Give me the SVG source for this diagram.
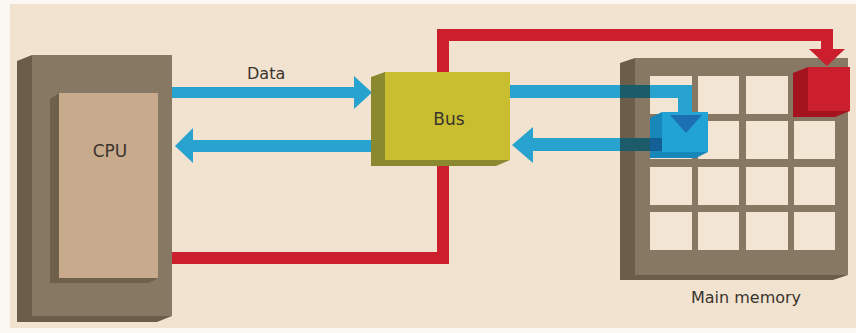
<svg xmlns="http://www.w3.org/2000/svg" width="856" height="333" viewBox="0 0 856 333">
  <style>
    .label { font-family: "DejaVu Sans", "Liberation Sans", sans-serif; fill: #3a342e; }
    .front { fill: #877864; }
    .side { fill: #6b5d49; }
    .cell { fill: #f3e5d3; }
    .blue { fill: #28a3cf; }
    .blue-dark { fill: #1c5b6a; }
    .red { fill: #cc1f2d; }
  </style>

  <!-- paper -->
  <rect width="856" height="333" fill="#fbf8f4"/>
  <rect x="10" y="4" width="846" height="324" fill="#f2e3d0"/>

  <!-- CPU box -->
  <g id="cpu">
    <polygon class="side" points="17,61 32,55 32,316 172,316 157,322 17,322"/>
    <rect class="front" x="32" y="55" width="140" height="261"/>
    <polygon fill="#6f604c" points="50,99 59,93 59,278 158,278 149,283 50,283"/>
    <rect x="59" y="93" width="99" height="185" fill="#c8ab8c"/>
    <text class="label" x="110" y="157" font-size="17" text-anchor="middle">CPU</text>
  </g>

  <!-- Connectors -->
  <g id="connectors">
    <!-- address line: CPU -> bus -> memory -->
    <rect class="red" x="172" y="252" width="277" height="12"/>
    <rect class="red" x="437" y="29" width="12" height="235"/>
    <rect class="red" x="437" y="29" width="396" height="12"/>
    <rect class="red" x="821" y="29" width="12" height="22"/>
    <!-- data: CPU -> bus -->
    <rect class="blue" x="172" y="87" width="184" height="11"/>
    <polygon class="blue" points="354,76 372,92.5 354,109"/>
    <text class="label" x="247" y="79" font-size="16">Data</text>
    <!-- data: bus -> CPU -->
    <rect class="blue" x="192" y="140" width="180" height="12"/>
    <polygon class="blue" points="193,128 175,146 193,163"/>
  </g>

  <!-- Bus -->
  <g id="bus">
    <polygon fill="#8b8930" points="371,77 385,72 385,160 510,160 496,166 371,166"/>
    <rect x="385" y="72" width="125" height="88" fill="#c9be30"/>
    <text class="label" x="449" y="125" font-size="17" text-anchor="middle">Bus</text>
  </g>

  <!-- Main memory -->
  <g id="memory">
    <polygon class="side" points="620,63 635,58 635,275 848,275 833,280 620,280"/>
    <rect class="front" x="635" y="58" width="213" height="217"/>
    <g class="cell">
      <rect x="650" y="76" width="42" height="38"/>
      <rect x="698" y="76" width="41" height="38"/>
      <rect x="746" y="76" width="42" height="38"/>
      <rect x="794" y="76" width="41" height="38"/>
      <rect x="650" y="121" width="42" height="38"/>
      <rect x="698" y="121" width="41" height="38"/>
      <rect x="746" y="121" width="42" height="38"/>
      <rect x="794" y="121" width="41" height="38"/>
      <rect x="650" y="167" width="42" height="38"/>
      <rect x="698" y="167" width="41" height="38"/>
      <rect x="746" y="167" width="42" height="38"/>
      <rect x="794" y="167" width="41" height="38"/>
      <rect x="650" y="212" width="42" height="38"/>
      <rect x="698" y="212" width="41" height="38"/>
      <rect x="746" y="212" width="42" height="38"/>
      <rect x="794" y="212" width="41" height="38"/>
    </g>
    <text class="label" x="746" y="303" font-size="16" text-anchor="middle">Main memory</text>
  </g>

  <!-- Data between bus and memory -->
  <g id="memory-data">
    <rect class="blue" x="510" y="85" width="182" height="13"/>
    <rect class="blue" x="678" y="85" width="14" height="30"/>
    <rect class="blue-dark" x="620" y="85" width="30" height="13"/>
    <rect class="blue" x="531" y="138" width="89" height="13"/>
    <polygon class="blue" points="533,127 512,145 533,163"/>
    <rect class="blue-dark" x="620" y="138" width="30" height="13"/>
  </g>

  <!-- Selected memory cell (data) -->
  <g id="data-cell">
    <polygon fill="#1786b9" points="650,118 662,112 662,152 708,152 696,158 650,158"/>
    <rect x="662" y="112" width="46" height="40" fill="#22a3d5"/>
    <rect x="678" y="112" width="14" height="4" class="blue"/>
    <polygon fill="#1b6fb2" points="670,115 702,115 686,133"/>
    <rect x="650" y="138" width="12" height="13" fill="#145f96"/>
  </g>

  <!-- Selected memory cell (address) -->
  <g id="address-cell">
    <polygon fill="#a3141e" points="793,73 808,67 808,111 850,111 835,117 793,117"/>
    <rect class="red" x="808" y="67" width="42" height="44"/>
    <polygon class="red" points="809,49 845,49 827,66"/>
  </g>
</svg>
